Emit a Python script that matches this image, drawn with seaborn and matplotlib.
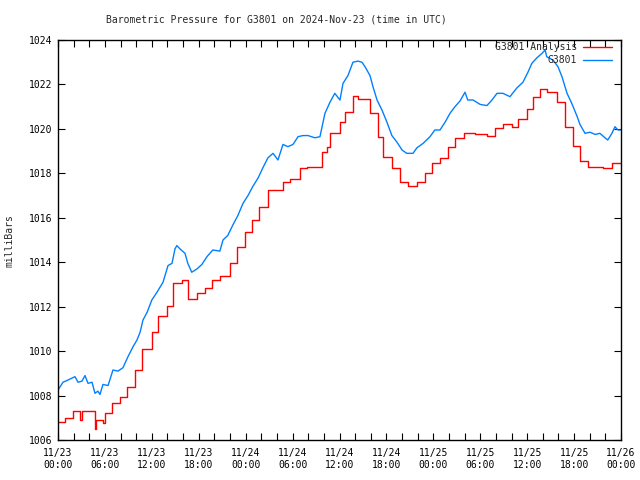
import matplotlib
matplotlib.use("Agg")
import matplotlib.pyplot as plt
import seaborn as sns
import pandas as pd
from matplotlib.ticker import MultipleLocator, FixedLocator

# ---- data (hours since 2024-11-23 00:00 UTC, millibars) ----
g3801_hours = [0.0, 0.64, 1.28, 2.17, 2.56, 3.07, 3.45, 3.84, 4.35, 4.73, 5.1, 5.37,
               5.75, 6.4, 7.03, 7.67, 8.3, 8.95, 9.6, 10.1, 10.5, 10.87, 11.4, 12.0,
               12.66, 13.43, 14.07, 14.58, 14.96, 15.2, 15.6, 16.24, 16.6, 17.1, 17.78,
               18.4, 19.05, 19.8, 20.7, 21.1, 21.7, 22.4, 23.0, 23.66, 24.3, 24.9, 25.6,
               26.2, 26.85, 27.5, 28.13, 28.77, 29.4, 30.05, 30.7, 31.33, 31.97, 32.86,
               33.5, 34.14, 34.78, 35.4, 36.06, 36.45, 37.08, 37.72, 38.36, 38.87, 39.26,
               39.9, 40.28, 40.8, 41.43, 42.07, 42.7, 43.35, 44.0, 44.6, 45.4, 45.9, 46.7,
               47.57, 48.2, 48.85, 49.5, 50.13, 50.77, 51.4, 52.05, 52.4, 53.07, 54.0,
               54.86, 55.5, 56.14, 56.9, 57.8, 58.7, 59.46, 60.1, 60.6, 61.25, 61.9, 62.3,
               62.5, 63.3, 63.94, 64.45, 65.1, 65.7, 66.4, 66.75, 67.4, 68.03, 68.7, 69.3,
               69.95, 70.3, 70.84, 71.23, 71.6, 72.0]
g3801_values = [1008.25, 1008.6, 1008.7, 1008.85, 1008.6, 1008.65, 1008.9, 1008.55, 1008.6,
                1008.1, 1008.2, 1008.05, 1008.5, 1008.45, 1009.15, 1009.1, 1009.25, 1009.75,
                1010.2, 1010.5, 1010.85, 1011.4, 1011.75, 1012.3, 1012.65, 1013.1, 1013.85,
                1013.95, 1014.6, 1014.75, 1014.6, 1014.4, 1013.95, 1013.55, 1013.7, 1013.9,
                1014.25, 1014.55, 1014.5, 1015.0, 1015.2, 1015.7, 1016.1, 1016.65, 1017.0,
                1017.4, 1017.8, 1018.25, 1018.7, 1018.9, 1018.6, 1019.3, 1019.2, 1019.3,
                1019.65, 1019.7, 1019.7, 1019.6, 1019.65, 1020.7, 1021.2, 1021.6, 1021.3,
                1022.05, 1022.4, 1023.0, 1023.05, 1023.0, 1022.8, 1022.4, 1021.9, 1021.3,
                1020.85, 1020.3, 1019.7, 1019.4, 1019.05, 1018.9, 1018.9, 1019.15, 1019.35,
                1019.65, 1019.95, 1019.95, 1020.3, 1020.7, 1021.0, 1021.25, 1021.65, 1021.3,
                1021.3, 1021.1, 1021.05, 1021.3, 1021.6, 1021.6, 1021.45, 1021.85, 1022.1,
                1022.55, 1022.95, 1023.2, 1023.4, 1023.55, 1023.25, 1023.1, 1022.8, 1022.35,
                1021.6, 1021.15, 1020.55, 1020.2, 1019.8, 1019.85, 1019.75, 1019.8, 1019.6,
                1019.5, 1019.8, 1020.1, 1019.95, 1019.95]

analysis_hours = [0.0, 0.9, 1.9, 2.8, 3.1, 4.7, 4.9, 5.75, 6.0, 6.9, 7.9, 8.8, 9.85, 10.75,
                  12.0, 12.8, 13.9, 14.7, 15.85, 16.6, 17.8, 18.8, 19.7, 20.7, 22.0, 22.9,
                  23.9, 24.8, 25.7, 26.85, 28.8, 29.7, 30.9, 31.8, 33.75, 34.4, 34.8, 36.1,
                  36.7, 37.7, 38.4, 39.9, 40.9, 41.6, 42.7, 43.7, 44.75, 45.9, 46.9, 47.8,
                  48.85, 49.9, 50.8, 51.9, 53.3, 54.9, 55.9, 56.9, 58.1, 58.8, 60.0, 60.7,
                  61.6, 62.5, 63.8, 64.8, 65.9, 66.75, 67.8, 69.7, 70.8, 72.0]
analysis_values = [1006.8, 1007.0, 1007.3, 1006.9, 1007.3, 1006.5, 1006.9, 1006.75, 1007.2,
                   1007.65, 1007.95, 1008.4, 1009.15, 1010.1, 1010.85, 1011.6, 1012.05,
                   1013.05, 1013.2, 1012.35, 1012.6, 1012.85, 1013.2, 1013.4, 1013.95,
                   1014.7, 1015.35, 1015.9, 1016.5, 1017.25, 1017.6, 1017.75, 1018.25,
                   1018.3, 1018.95, 1019.2, 1019.8, 1020.3, 1020.75, 1021.5, 1021.35,
                   1020.7, 1019.65, 1018.75, 1018.25, 1017.6, 1017.45, 1017.6, 1018.0,
                   1018.45, 1018.7, 1019.2, 1019.6, 1019.8, 1019.75, 1019.7, 1020.05,
                   1020.2, 1020.1, 1020.45, 1020.9, 1021.45, 1021.8, 1021.65, 1021.2,
                   1020.1, 1019.25, 1018.55, 1018.3, 1018.25, 1018.45, 1018.45]

x_tick_labels = ["11/23\n00:00", "11/23\n06:00", "11/23\n12:00", "11/23\n18:00",
                 "11/24\n00:00", "11/24\n06:00", "11/24\n12:00", "11/24\n18:00",
                 "11/25\n00:00", "11/25\n06:00", "11/25\n12:00", "11/25\n18:00",
                 "11/26\n00:00"]
y_ticks = [1006, 1008, 1010, 1012, 1014, 1016, 1018, 1020, 1022, 1024]

title = "Barometric Pressure for G3801 on 2024-Nov-23 (time in UTC)"

# ---- plot ----
sns.set_style("ticks")
plt.rcParams["font.family"] = ["DejaVu Sans Mono"]
FS = 7

fig = plt.figure(figsize=(6.4, 4.8), dpi=100)
ax = fig.add_axes([58 / 640, 40 / 480, (621 - 58) / 640, (440 - 40) / 480])

df_a = pd.DataFrame({"h": analysis_hours, "p": analysis_values})
df_g = pd.DataFrame({"h": g3801_hours, "p": g3801_values})

sns.lineplot(data=df_a, x="h", y="p", ax=ax, color="#ff0000", lw=1.0,
             drawstyle="steps-post", estimator=None, sort=False, label="G3801 Analysis")
sns.lineplot(data=df_g, x="h", y="p", ax=ax, color="#0080ff", lw=1.0,
             estimator=None, sort=False, label="G3801")

ax.set_xlim(0, 72)
ax.set_ylim(1006, 1024)
ax.xaxis.set_major_locator(FixedLocator(list(range(0, 73, 6))))
ax.set_xticklabels(x_tick_labels)
ax.xaxis.set_minor_locator(MultipleLocator(2))
ax.set_yticks(y_ticks)
ax.set_yticklabels([str(v) for v in y_ticks])
ax.tick_params(which="both", direction="in", top=True, right=True, length=5,
               width=0.8, color="black", labelsize=FS, labelcolor="black")
ax.tick_params(axis="x", which="major", pad=6)
ax.tick_params(axis="y", which="major", pad=4)
for s in ax.spines.values():
    s.set_visible(True)
    s.set_linewidth(1.0)
    s.set_color("black")
ax.set_xlabel("")
ax.set_ylabel("")

fig.text(276 / 640, 1 - 20 / 480, title, ha="center", va="center", fontsize=FS)
fig.text(10 / 640, 1 - 241 / 480, "milliBars", rotation=90, ha="center",
         va="center", fontsize=FS)

leg = ax.legend(loc="upper right", bbox_to_anchor=(612 / 640, 1 - 42 / 480),
                bbox_transform=fig.transFigure, frameon=False, markerfirst=False,
                fontsize=FS, handlelength=3.0, handletextpad=0.6, labelspacing=0.3,
                borderpad=0, borderaxespad=0)

fig.savefig("out.png", dpi=100)
